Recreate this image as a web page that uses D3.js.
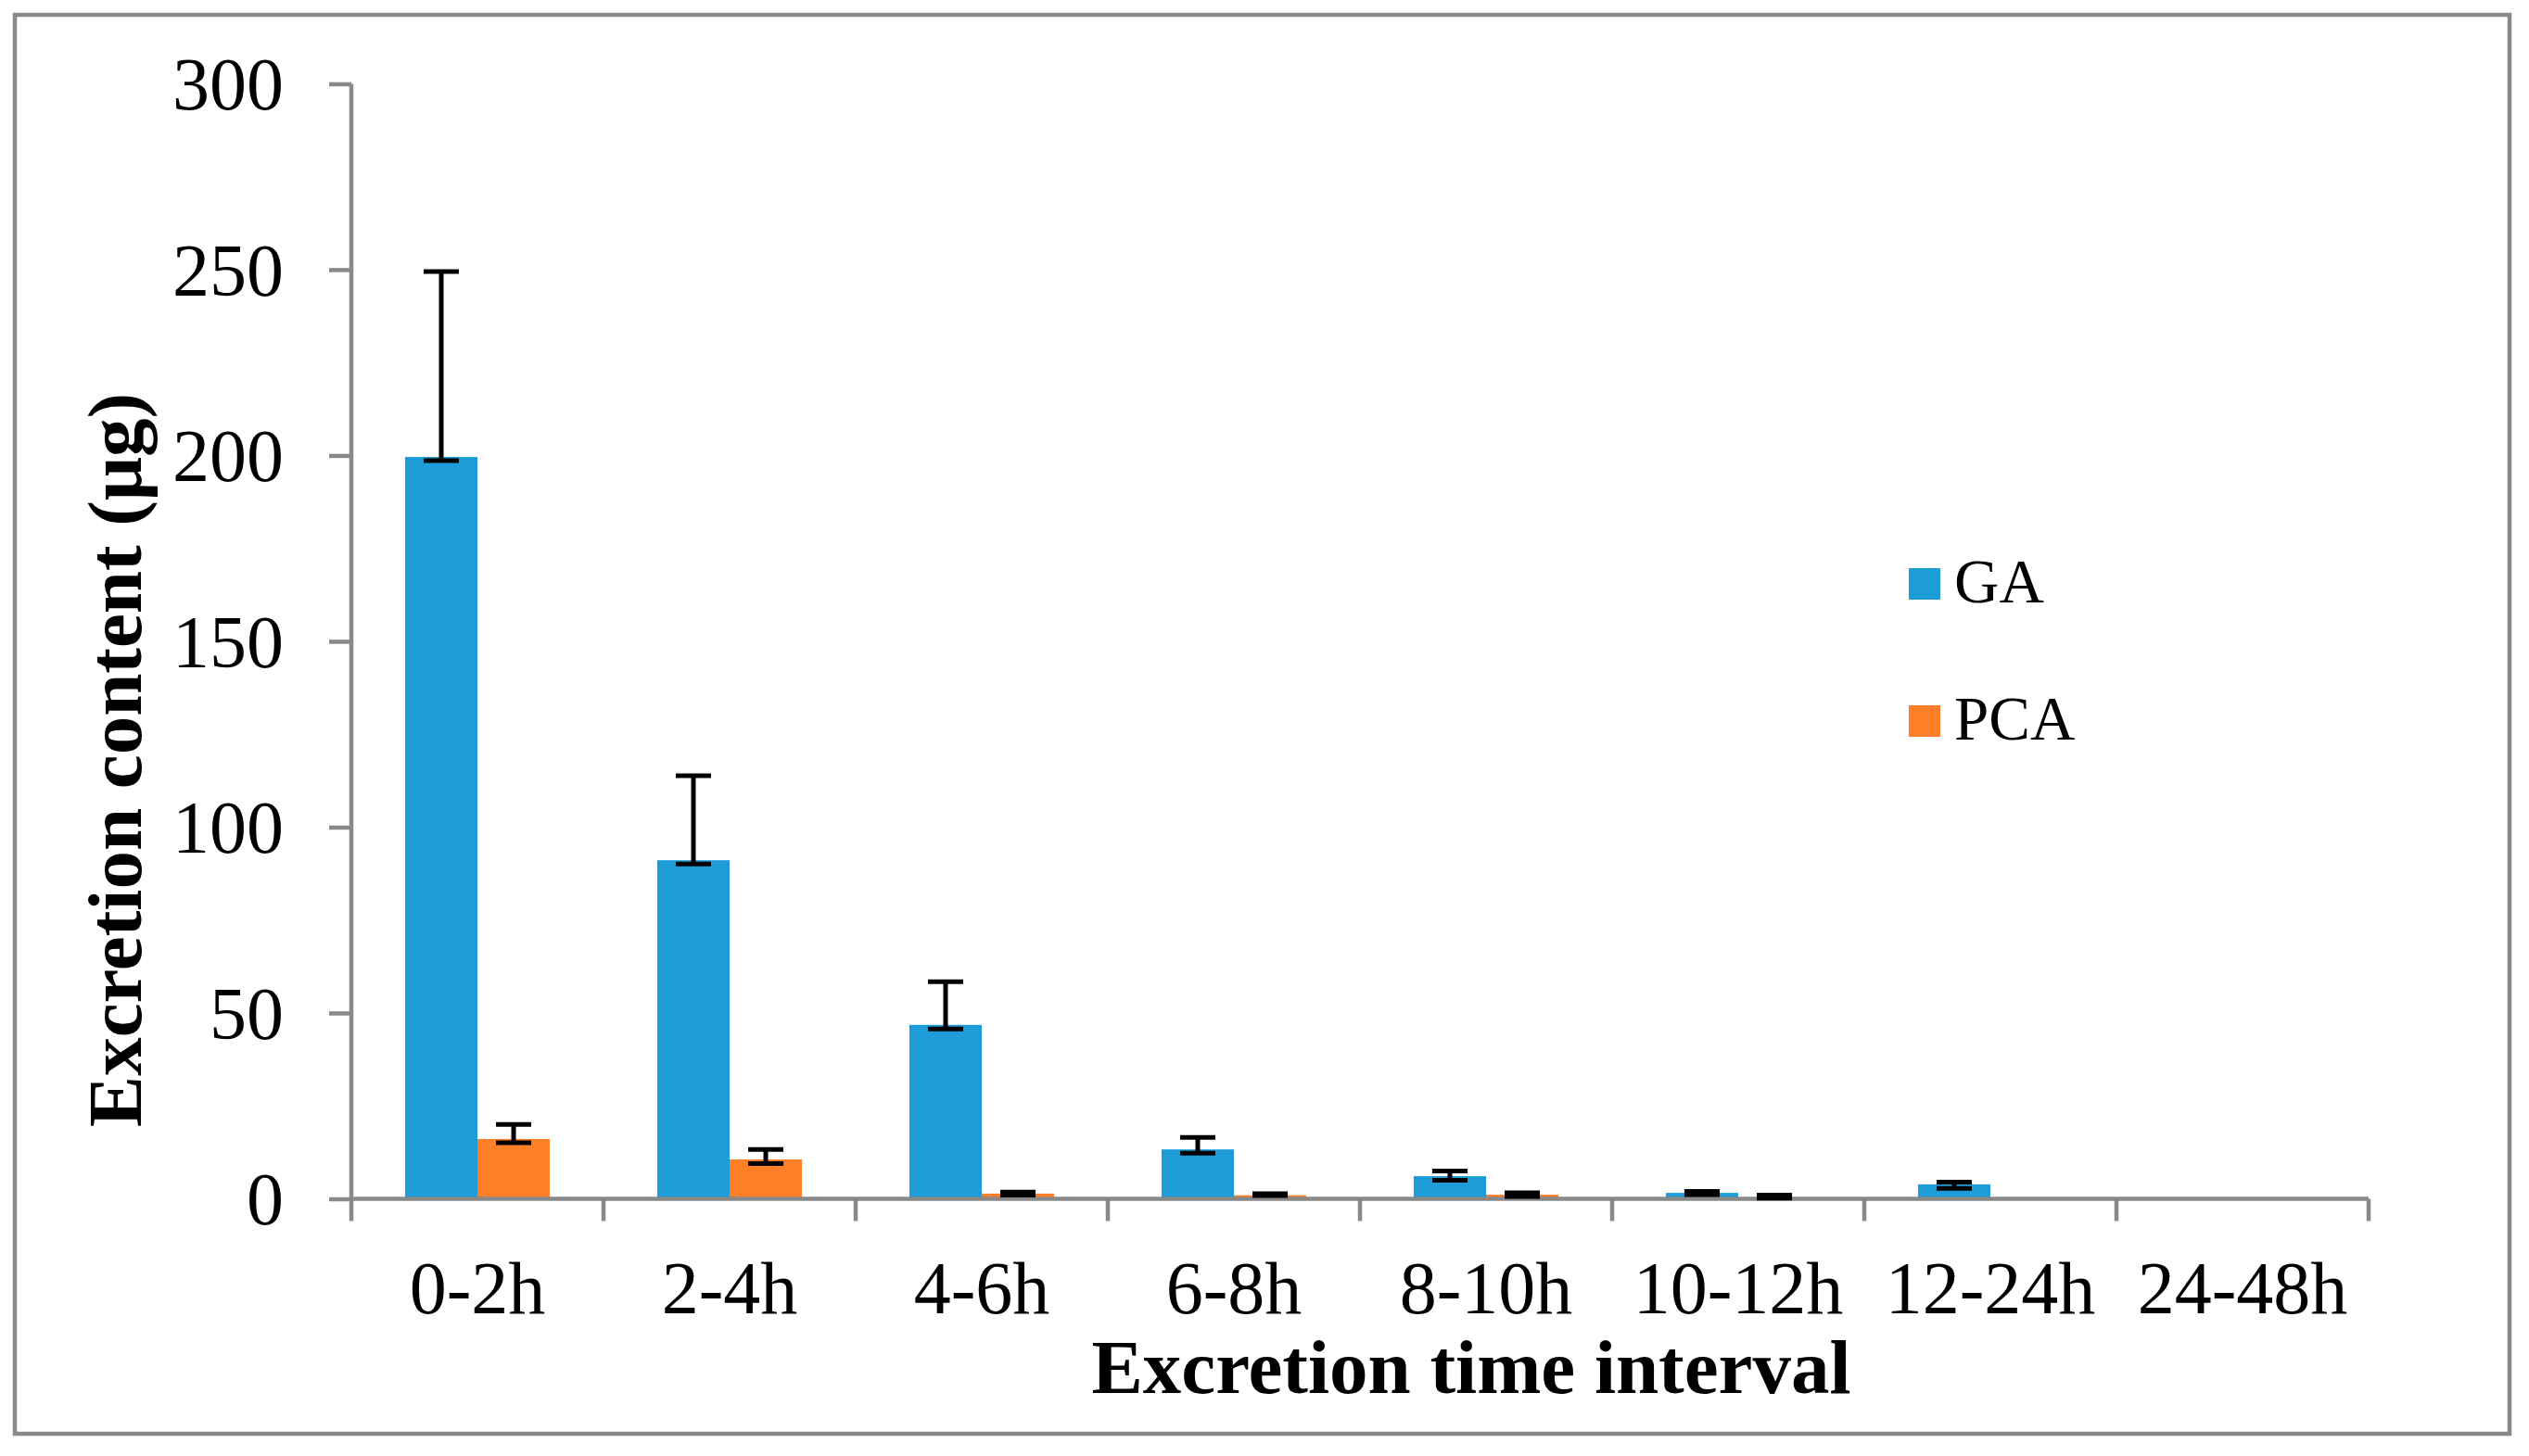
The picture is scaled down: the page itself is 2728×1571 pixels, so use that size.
<!DOCTYPE html>
<html>
<head>
<meta charset="utf-8">
<script src="https://cdn.jsdelivr.net/npm/d3@7"></script>
<style>
  body { margin: 0; background: white; }
  svg { display: block; font-family: "Liberation Serif", "Times New Roman", serif; }
</style>
</head>
<body>
<svg id="chart"></svg>
<script>
// values (µg), error bars stored as +/- offsets
const categories = ["0-2h", "2-4h", "4-6h", "6-8h", "8-10h", "10-12h", "12-24h", "24-48h"];
const seriesNames = ["GA", "PCA"];
const gaValues   = [199.6, 91.1, 46.8, 13.3, 6.1, 1.6, 3.9, 0];
const gaErrPlus  = [49.9, 22.7, 11.6, 3.2, 1.4, 0.4, 0.6, null];
const gaErrMinus = [1.0, 1.0, 1.1, 1.0, 1.1, 0.5, 1.1, null];
const pcaValues   = [16.1, 10.6, 1.4, 0.95, 1.1, 0.4, 0, 0];
const pcaErrPlus  = [3.9, 2.7, 0.4, 0.45, 0.5, 0.6, null, null];
const pcaErrMinus = [1.0, 1.1, 0.4, 0.05, 0.5, 0.2, null, null];
const yTicks = [0, 50, 100, 150, 200, 250, 300];
const colors = ["#1e9cd7", "#fe7f27"];

const width = 2728, height = 1571;
const axisGrey = "#898989";

const svg = d3.select("#chart")
  .attr("width", width)
  .attr("height", height)
  .attr("viewBox", [0, 0, width, height]);

// outer frame
svg.append("rect")
  .attr("x", 16).attr("y", 16)
  .attr("width", 2691).attr("height", 1531)
  .attr("fill", "white")
  .attr("stroke", axisGrey)
  .attr("stroke-width", 4.5);

const x = d3.scaleBand().domain(categories).range([379, 2555]).padding(0);
const groupW = x.bandwidth() * 0.574;
const xs = d3.scaleBand().domain(seriesNames)
  .range([(x.bandwidth() - groupW) / 2, (x.bandwidth() + groupW) / 2]);
const y = d3.scaleLinear().domain([0, 300]).range([1293.5, 90.4]);

const rows = [];
categories.forEach((c, i) => {
  rows.push({cat: c, s: "GA", v: gaValues[i], p: gaErrPlus[i], m: gaErrMinus[i], color: colors[0]});
  rows.push({cat: c, s: "PCA", v: pcaValues[i], p: pcaErrPlus[i], m: pcaErrMinus[i], color: colors[1]});
});

// bars
svg.append("g")
  .selectAll("rect")
  .data(rows.filter(d => d.v > 0))
  .join("rect")
  .attr("x", d => x(d.cat) + xs(d.s))
  .attr("width", xs.bandwidth())
  .attr("y", d => y(d.v))
  .attr("height", d => y(0) - y(d.v))
  .attr("fill", d => d.color);

// y axis
const yAxis = svg.append("g")
  .attr("transform", `translate(${x.range()[0]},0)`)
  .call(d3.axisLeft(y).tickValues(yTicks).tickSize(24).tickPadding(49));
yAxis.select(".domain").attr("stroke", axisGrey).attr("stroke-width", 4.5)
  .attr("d", `M0,${y(300)}V${y(0)}`);
yAxis.selectAll(".tick line").attr("stroke", axisGrey).attr("stroke-width", 4.5);
yAxis.selectAll(".tick text")
  .attr("font-size", 80)
  .attr("font-family", "Liberation Serif")
  .attr("fill", "black")
  .attr("dy", "0.34em");

// x axis labels
const xAxis = svg.append("g")
  .attr("transform", `translate(0,${y(0)})`)
  .call(d3.axisBottom(x).tickSize(0).tickPadding(67));
xAxis.select(".domain").remove();
xAxis.selectAll(".tick text")
  .attr("font-size", 80)
  .attr("font-family", "Liberation Serif")
  .attr("fill", "black");

// x axis line and boundary ticks
const bounds = categories.map(c => x(c)).concat([x.range()[1]]);
svg.append("line")
  .attr("x1", x.range()[0]).attr("x2", x.range()[1])
  .attr("y1", y(0)).attr("y2", y(0))
  .attr("stroke", axisGrey).attr("stroke-width", 4.5);
svg.append("g")
  .selectAll("line")
  .data(bounds)
  .join("line")
  .attr("x1", d => d).attr("x2", d => d)
  .attr("y1", y(0)).attr("y2", y(0) + 24)
  .attr("stroke", axisGrey).attr("stroke-width", 4.5);

// error bars
const capW = 38;
const err = svg.append("g")
  .selectAll("g")
  .data(rows.filter(d => d.p != null))
  .join("g")
  .attr("transform", d => `translate(${x(d.cat) + xs(d.s) + xs.bandwidth() / 2},0)`);
err.append("line")
  .attr("y1", d => y(d.v + d.p)).attr("y2", d => y(d.v - d.m))
  .attr("stroke", "black").attr("stroke-width", 5);
err.append("line")
  .attr("x1", -capW / 2).attr("x2", capW / 2)
  .attr("y1", d => y(d.v + d.p)).attr("y2", d => y(d.v + d.p))
  .attr("stroke", "black").attr("stroke-width", 5);
err.append("line")
  .attr("x1", -capW / 2).attr("x2", capW / 2)
  .attr("y1", d => y(d.v - d.m)).attr("y2", d => y(d.v - d.m))
  .attr("stroke", "black").attr("stroke-width", 5);

// legend
const legend = svg.append("g")
  .selectAll("g")
  .data(seriesNames)
  .join("g")
  .attr("transform", (d, i) => `translate(2059,${613 + i * 148})`);
legend.append("rect")
  .attr("width", 34).attr("height", 34)
  .attr("fill", (d, i) => colors[i]);
legend.append("text")
  .attr("x", 49).attr("y", 37)
  .attr("font-size", 67)
  .attr("fill", "black")
  .text(d => d);

// axis titles
svg.append("text")
  .attr("transform", "rotate(-90)")
  .attr("x", -820).attr("y", 152)
  .attr("text-anchor", "middle")
  .attr("font-size", 83)
  .attr("font-weight", "bold")
  .text("Excretion content (μg)");

svg.append("text")
  .attr("x", 1587).attr("y", 1503)
  .attr("text-anchor", "middle")
  .attr("font-size", 83)
  .attr("font-weight", "bold")
  .text("Excretion time interval");
</script>
</body>
</html>
